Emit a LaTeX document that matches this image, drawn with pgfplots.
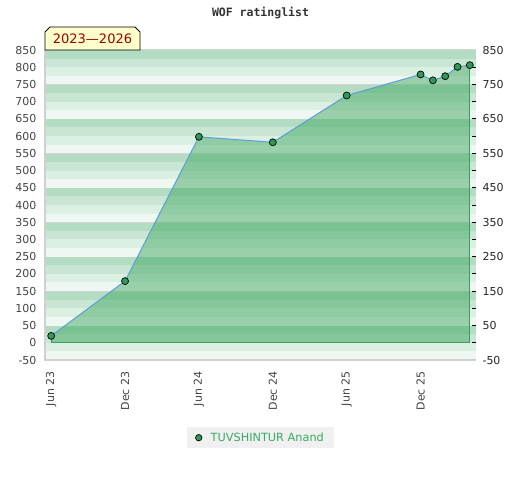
\documentclass[border=0pt]{standalone}
\usepackage{fontspec}
\setmainfont{DejaVu Sans}
\setmonofont{DejaVu Sans Mono}
\usepackage{pgfplots}
\pgfplotsset{compat=1.18}
\definecolor{bandA}{HTML}{B3DCC2}
\definecolor{bandB}{HTML}{C8E6D3}
\definecolor{bandC}{HTML}{DCEFE3}
\definecolor{bandD}{HTML}{EFF7F2}
\definecolor{gridgray}{HTML}{D4D4D4}
\definecolor{framegray}{HTML}{D0D0D0}
\definecolor{fillgreen}{RGB}{68,170,101}
\definecolor{edgegreen}{HTML}{3A9F5C}
\definecolor{linblue}{HTML}{5B9FD8}
\definecolor{markgreen}{HTML}{2E9A5A}
\definecolor{labgray}{HTML}{444444}
\definecolor{leggreen}{HTML}{3AAA64}
\definecolor{leggray}{HTML}{F0F0F0}
\definecolor{tagred}{HTML}{990000}
\definecolor{tagyellow}{HTML}{FFFFCC}
\begin{document}
\begin{tikzpicture}[x=1pt,y=1pt]
\path[use as bounding box] (0,0) rectangle (520,480);
% background bands
\foreach \b in {0,...,8} {
  \pgfmathsetmacro\yb{120+34.4444*\b}
  \fill[bandD] (45,\yb) rectangle (476,\yb+8.6111);
  \fill[bandC] (45,\yb+8.6111) rectangle (476,\yb+17.2222);
  \fill[bandB] (45,\yb+17.2222) rectangle (476,\yb+25.8333);
  \fill[bandA] (45,\yb+25.8333) rectangle (476,\yb+34.4444);
  \draw[gridgray, line width=1pt] (45,\yb+34.4444) -- (476,\yb+34.4444);
}
\begin{axis}[
  at={(45pt,120pt)}, anchor=south west,
  scale only axis, width=431pt, height=310pt,
  xmin=-0.5, xmax=34.5, ymin=-50, ymax=850,
  axis line style={draw=none},
  ytick={-50,0,...,850},
  xtick={0,6,...,30},
  xticklabels={Jun 23,Dec 23,Jun 24,Dec 24,Jun 25,Dec 25},
  major tick length=0pt,
  /pgf/number format/assume math mode=true,
  yticklabel style={font=\fontsize{11}{13}\selectfont, text=labgray, xshift=-5pt},
  xticklabel style={font=\fontsize{11}{13}\selectfont, text=labgray, yshift=-8pt, rotate=90, anchor=east},
  legend style={at={(0.5,-0.216)}, anchor=north, fill=leggray, draw=none,
    font=\fontsize{11.3}{13}\selectfont, text=leggreen, inner xsep=8pt, inner ysep=3.5pt},
  legend cell align=left,
  clip=false,
]
\addplot[draw=none, fill=fillgreen, fill opacity=0.5, forget plot] coordinates {
  (0,0) (0,20) (6,179) (12,598) (18,582) (24,718) (30,779) (31,762) (32,774) (33,801) (34,806) (34,0)} \closedcycle;
\addplot[edgegreen, line width=1pt, forget plot] coordinates {
  (0,20) (0,0) (34,0) (34,806)};
\addplot[linblue, line width=1pt, mark=*, mark size=3.5pt,
  mark options={fill=markgreen, draw=black, line width=0.7pt},
  legend image code/.code={\path[draw=none,fill=none] (-1pt,-1pt) rectangle (10pt,1pt); \draw[fill=markgreen, draw=black, line width=0.7pt] (0pt,0pt) circle (3.2pt);}]
  coordinates {
  (0,20) (6,179) (12,598) (18,582) (24,718) (30,779) (31,762) (32,774) (33,801) (34,806)};
\addlegendentry{TUVSHINTUR Anand}
\end{axis}
\begin{axis}[
  at={(45pt,120pt)}, anchor=south west,
  scale only axis, width=431pt, height=310pt,
  xmin=-0.5, xmax=34.5, ymin=-50, ymax=850,
  axis x line=none, axis y line*=right,
  axis line style={draw=none},
  ytick={0,50,...,800},
  yticklabels={{},50,{},150,{},250,{},350,{},450,{},550,{},650,{},750,{}},
  extra y ticks={-50,850},
  extra y tick labels={-50,850},
  extra y tick style={major tick length=0pt},
  tick align=inside,
  major tick length=4pt,
  tick style={black, line width=0.9pt},
  yticklabel style={font=\fontsize{11}{13}\selectfont, text=black!85, anchor=west, xshift=3pt},
]
\addplot[draw=none, forget plot] coordinates {(0,0)};
\end{axis}
% frame
\draw[framegray, line width=1.5pt] (45,430) -- (45,120) -- (476,120);
% title
\node[font=\ttfamily\bfseries\fontsize{11.5}{13}\selectfont, text=black!80] at (260.5,467) {WOF ratinglist};
% period tag
\draw[fill=tagyellow, draw=black, line width=0.8pt] (45,430) -- (45,448) -- (50,453) -- (135,453) -- (140,448) -- (140,430) -- cycle;
\node[font=\fontsize{13}{15}\selectfont, text=tagred] at (92.5,441) {2023—2026};
\end{tikzpicture}
\end{document}
